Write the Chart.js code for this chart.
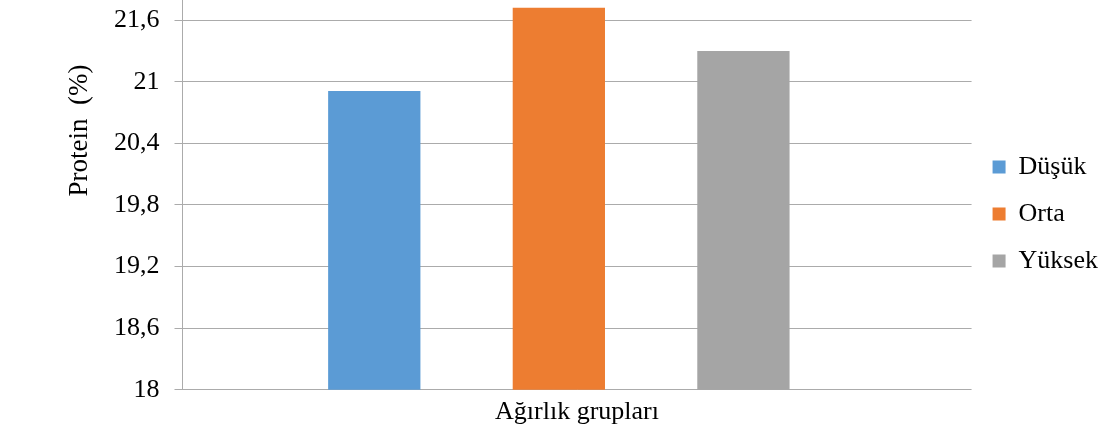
<!DOCTYPE html>
<html>
<head>
<meta charset="utf-8">
<script src="https://cdn.jsdelivr.net/npm/chart.js@4"></script>
<style>
  html, body { margin: 0; padding: 0; background: #fff; }
  #wrap { position: relative; width: 1116px; height: 434px; overflow: hidden; }
  #box { position: absolute; left: 0; top: -31px; width: 1116px; height: 465px; }
</style>
</head>
<body>
<div id="wrap"><div id="box"><canvas id="proteinChart"></canvas></div></div>
<script>
const groups = ['Düşük', 'Orta', 'Yüksek'];
const protein = [20.91, 21.72, 21.3];
const colors = ['#5B9BD5', '#ED7D31', '#A5A5A5'];
const yTicks = [18, 18.6, 19.2, 19.8, 20.4, 21, 21.6];
const yTitle = 'Protein  (%)';
const xTitle = 'Ağırlık grupları';

const FONT = 'Liberation Serif';
const GRID = '#ababab';

// y axis title is drawn by hand, Excel put it above the middle of the axis
const yTitlePlugin = {
    id: 'yTitle',
    afterDraw(chart) {
        const ctx = chart.ctx;
        const area = chart.chartArea;
        ctx.save();
        ctx.translate(area.left - 103, area.top + 131);
        ctx.rotate(-Math.PI / 2);
        ctx.font = '27px "' + FONT + '"';
        ctx.fillStyle = '#000';
        ctx.textAlign = 'center';
        ctx.textBaseline = 'middle';
        ctx.fillText(yTitle, 0, 0);
        ctx.restore();
    }
};

function initProteinChart() {
    const ctx = document.getElementById('proteinChart').getContext('2d');
    const datasets = groups.map((g, i) => ({
        label: g,
        data: [{ x: i + 1, y: protein[i] }],
        backgroundColor: colors[i],
        borderWidth: 0,
        grouped: false,
        barPercentage: 0.5,
        categoryPercentage: 1
    }));

    new Chart(ctx, {
        type: 'bar',
        data: { datasets: datasets },
        plugins: [yTitlePlugin],
        options: {
            responsive: true,
            maintainAspectRatio: false,
            animation: false,
            layout: { padding: { left: 99, right: 8, top: 0, bottom: 2 } },
            scales: {
                x: {
                    type: 'linear',
                    min: -0.039,
                    max: 4.236,
                    afterBuildTicks: axis => { axis.ticks = []; },
                    ticks: { display: false },
                    grid: { display: false, drawTicks: false },
                    border: { display: false },
                    title: {
                        display: true,
                        text: xTitle,
                        color: '#000',
                        font: { family: FONT, size: 26 },
                        padding: { top: 7, bottom: 4 }
                    }
                },
                y: {
                    min: 18,
                    max: 21.8,
                    afterBuildTicks: axis => {
                        axis.ticks = yTicks.map(v => ({ value: v })).concat([{ value: 21.8 }]);
                    },
                    ticks: {
                        padding: 15,
                        color: '#000',
                        font: { family: FONT, size: 26 },
                        callback: v => yTicks.includes(v) ? String(v).replace('.', ',') : null
                    },
                    grid: { color: GRID, tickLength: 8, lineWidth: 1 },
                    border: { display: true, color: GRID, width: 1 }
                }
            },
            plugins: {
                legend: {
                    position: 'right',
                    // empty title only pushes the items a bit lower
                    title: { display: true, text: '', font: { size: 1, lineHeight: 1 }, padding: { top: 0, bottom: 26 } },
                    labels: {
                        color: '#000',
                        font: { family: FONT, size: 26 },
                        boxWidth: 13,
                        boxHeight: 13,
                        padding: 21
                    }
                },
                tooltip: { enabled: false }
            }
        }
    });
}

if (typeof Chart !== 'undefined') {
    initProteinChart();
} else {
    window.addEventListener('load', initProteinChart);
}
</script>
</body>
</html>
